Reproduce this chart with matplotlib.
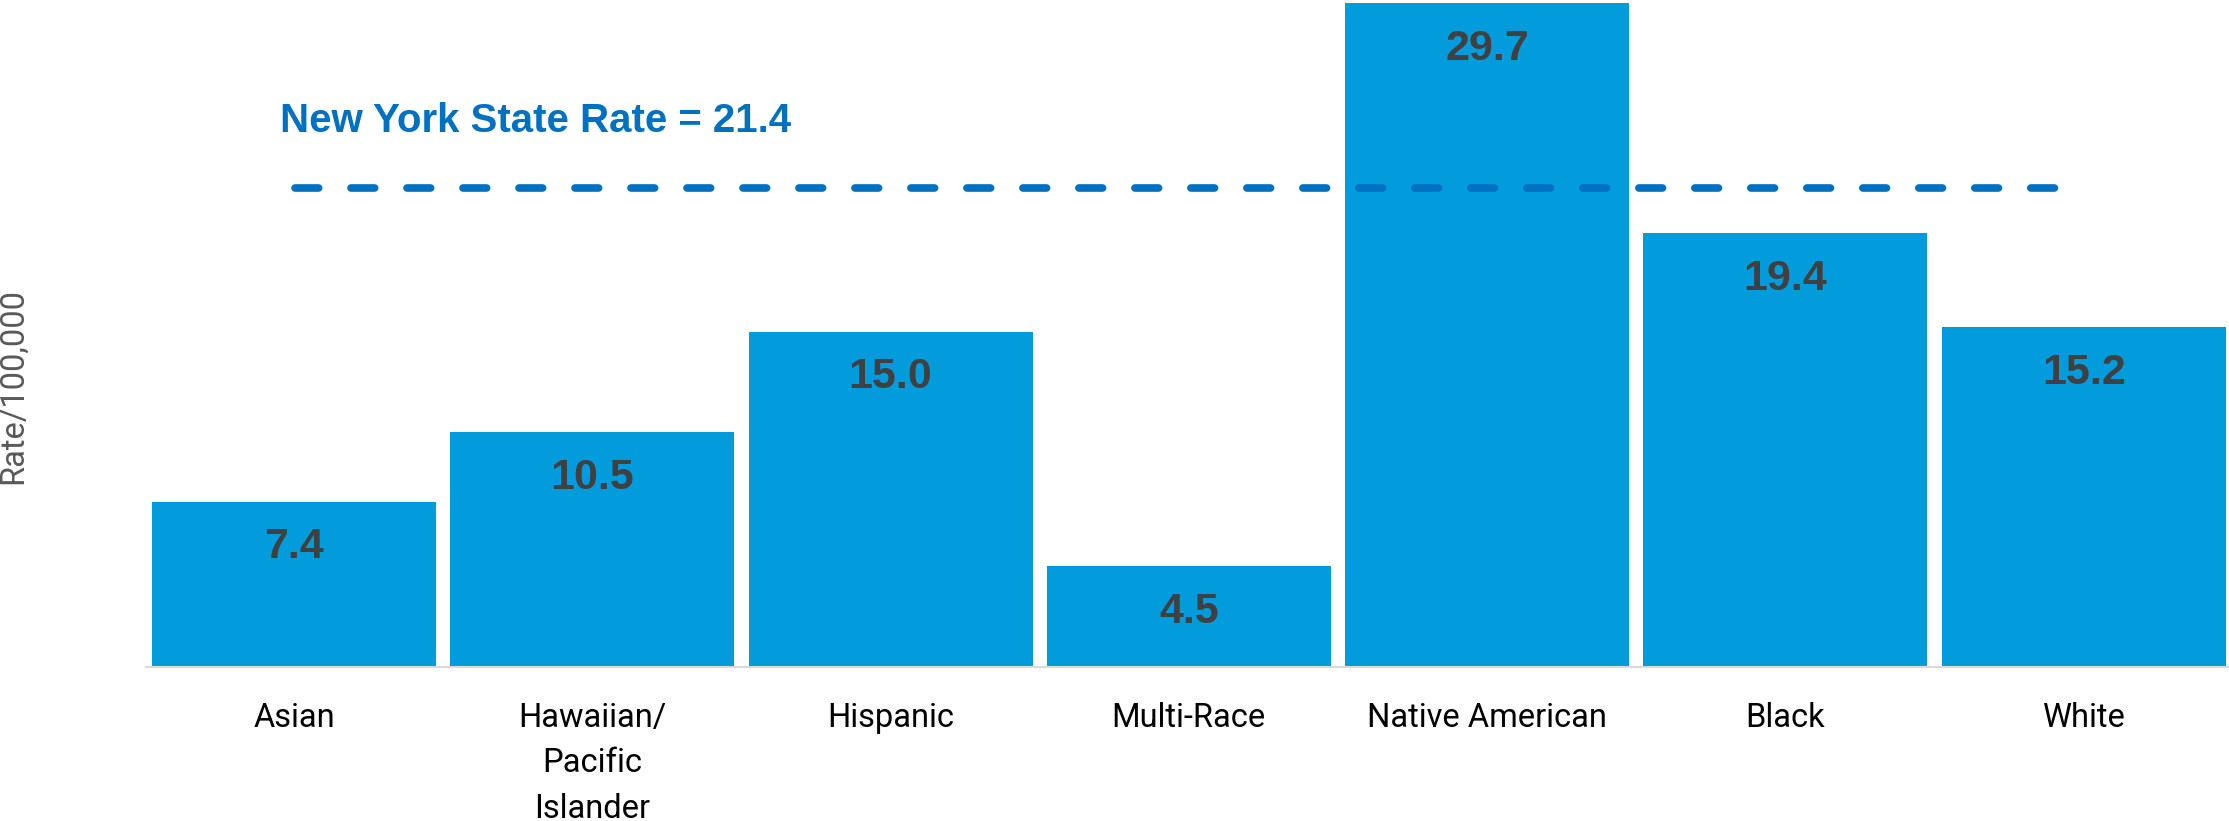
import numpy as np
import matplotlib.pyplot as plt

# data
groups = ['Asian', 'Hawaiian/\nPacific\nIslander', 'Hispanic', 'Multi-Race',
          'Native American', 'Black', 'White']
rates = [7.4, 10.5, 15.0, 4.5, 29.7, 19.4, 15.2]
nys_rate = 21.4
nys_label = f'New York State Rate = {nys_rate}'

BAR_COLOR = '#029CDD'
LINE_COLOR = '#0070C0'
VALUE_COLOR = '#404040'

fig = plt.figure(figsize=(22.29, 8.21), dpi=100)
ax = fig.add_axes([146 / 2229, 154 / 821, 1 - 146 / 2229, 667 / 821])

x = np.arange(len(groups))
bars = ax.bar(x, rates, width=0.952, color=BAR_COLOR, zorder=2)

ax.set_xlim(-0.496, 6.487)
ax.set_ylim(0, 29.83)

# state reference line
ax.hlines(nys_rate, 0.005, 5.915, colors=LINE_COLOR, linewidth=5.5,
          linestyles=(0, (3.1, 4.23)), capstyle='round', zorder=3)
ax.text(-0.047, 23.93, nys_label, color=LINE_COLOR, fontsize=29,
        fontweight='bold', family='Liberation Sans', va='baseline', ha='left')

# value labels inside bars
for bar, val in zip(bars, rates):
    ax.annotate(f'{val:.1f}', (bar.get_x() + bar.get_width() / 2, val),
                xytext=(0, -33), textcoords='offset points',
                ha='center', va='center', fontsize=31, fontweight='bold',
                family='Liberation Sans', color=VALUE_COLOR)

ax.set_xticks(x)
ax.set_xticklabels(groups, fontsize=23.5, family='Roboto', color='black',
                   linespacing=1.55)
ax.tick_params(axis='x', length=0, pad=25)
ax.set_yticks([])

for side in ['top', 'right', 'left']:
    ax.spines[side].set_visible(False)
ax.spines['bottom'].set_color('#D9D9D9')
ax.spines['bottom'].set_linewidth(1.5)

fig.text(13 / 2229, 1 - 386 / 821, 'Rate/100,000', rotation=90,
         fontsize=23.5, family='Roboto', color='#595959',
         ha='center', va='center')

plt.savefig('out.png', dpi=100)
